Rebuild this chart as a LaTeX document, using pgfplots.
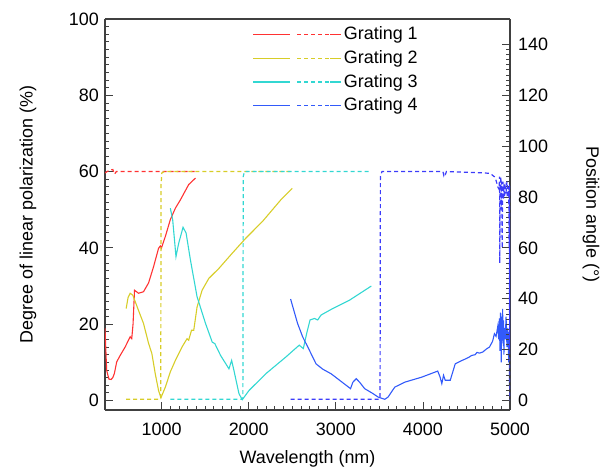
\documentclass[border=0pt]{standalone}
\usepackage{fontspec}
\setmainfont{Liberation Sans}
\usepackage{pgfplots}
\pgfplotsset{compat=1.18}
\definecolor{cR}{RGB}{255,50,50}
\definecolor{cY}{RGB}{215,205,40}
\definecolor{cC}{RGB}{50,215,210}
\definecolor{cB}{RGB}{50,90,250}
\definecolor{cBd}{RGB}{60,60,250}
\pgfplotsset{
  twoleg/.style={legend image code/.code={
    \draw[solid, line width=1.3bp, color=#1] (0bp,0bp)--(37bp,0bp);
    \draw[line width=1.3bp, color=#1, dash pattern=on 4bp off 3bp] (44bp,0bp)--(77bp,0bp);
    \path (77bp,0bp)--(88bp,0bp);}},
  common/.style={
    scale only axis, width=405bp, height=391bp,
    xmin=350, xmax=5000,
    tick align=inside,
    major tick length=8bp, minor tick length=4.5bp,
    axis line style={black!75, line width=1.1bp},
    every tick/.style={black!75, line width=0.8bp},
    ticklabel style={font=\fontsize{18}{21}\selectfont},
    label style={font=\fontsize{18}{21}\selectfont},
    /pgf/number format/assume math mode=true,
    /pgf/number format/set thousands separator={},
    scaled ticks=false,
  },
  sol/.style={line width=1.1bp, solid},
  dsh/.style={line width=1.2bp, dash pattern=on 4bp off 3bp},
}
\begin{document}
\fontsize{18}{21}\selectfont
\begin{tikzpicture}
\begin{axis}[common,
  ymin=-2.5, ymax=100,
  axis y line*=left,
  xtick={1000,2000,3000,4000,5000}, minor x tick num=9,
  ytick={0,20,40,60,80,100}, minor y tick num=9,
  xtick pos=left,
  xticklabel style={yshift=-7bp},
  xlabel={Wavelength (nm)},
  ylabel={Degree of linear polarization (\%)},
  xlabel style={at={(axis description cs:0.5,-0.125)},anchor=center},
  ylabel style={at={(axis description cs:-0.19,0.5)},anchor=center},
  legend style={draw=none, fill=none, at={(rel axis cs:0.357,0.992)}, anchor=north west,
    yshift=-0.5bp, row sep=4bp, font=\fontsize{18}{21}\selectfont},
  legend cell align=left,
]
\coordinate (O) at (rel axis cs:0,0);
\addplot[sol, cR, twoleg=cR] coordinates {
(350,18.9)(369,7.9)(395,5.6)(420,5.5)(440,6.0)(458,7.1)(484,10.1)(524,11.8)(581,14.0)(639,16.7)(657,16.2)
(672,20)(689,28.9)(735,28.1)(792,28.5)(850,30.8)(908,35.1)(965,39.9)(985,40.5)(997,39.9)
(1043,43.0)(1100,47.4)(1158,50.4)(1216,52.6)(1311,56.6)(1389,58.3)};
\addlegendentry{Grating 1}
\addplot[sol, cY, twoleg=cY] coordinates {
(593,24.1)(615,27)(639,28.1)(669,27.6)(735,23.6)(792,20.2)(850,15.0)(888,12.3)(927,7.0)(965,2.6)(992,0.7)
(1043,3.5)(1100,7.5)(1158,10.5)(1234,14.0)(1292,16.2)(1311,15.8)(1343,18.4)(1369,18.4)(1407,24.5)
(1465,28.9)(1542,32.0)(1657,34.6)(1811,38.6)(1965,42.5)(2157,46.9)(2369,52.6)(2500,55.6)};
\addlegendentry{Grating 2}
\addplot[sol, cC, twoleg=cC] coordinates {
(1100,50.4)(1127,47.4)(1165,37.7)(1196,41.2)(1246,45.4)(1281,43.9)(1331,36.8)(1407,27.2)(1504,20.2)
(1581,15.3)(1611,14.9)(1677,11.8)(1773,8.3)(1804,10.5)(1830,7.9)(1888,1.8)(1926,0.2)(2003,2.6)
(2196,7.0)(2427,11.4)(2580,14.5)(2627,13.6)(2665,17.5)(2704,21.1)(2754,21.5)(2792,21.1)(2831,22.4)
(2965,24.1)(3158,26.3)(3408,30.0)};
\addlegendentry{Grating 3}
\addplot[sol, cB, twoleg=cB] coordinates {
(2481,26.6)(2561,20.2)(2619,16.7)(2696,13.2)(2773,9.6)(2850,8.2)(2946,7.0)(3169,3.1)(3196,4.8)(3235,5.7)
(3273,4.8)(3331,3.1)(3427,1.8)(3485,0.9)(3562,0.3)(3600,0.9)(3677,3.5)(3792,4.8)(3985,6.1)(4170,7.7)
(4198,6.1)(4217,4.4)(4237,6.6)(4256,5.3)(4314,5.3)(4371,9.6)(4450,10.5)(4500,11)(4533,11.4)(4560,11.8)
(4600,12.0)(4620,12.6)(4650,12.4)(4687,12.7)(4730,13.5)(4764,14.0)(4800,15.5)(4821,17.5)(4840,16.8)
(4860,19.5)(4870,16)(4878,21.5)(4885,13)(4890,23)(4895,19)(4900,10)(4905,22)(4910,15)(4915,24)
(4920,17)(4925,21)(4930,12)(4935,19)(4945,16)(4955,22)(4965,14)(4975,19)(4985,10)(4990,18)(4995,3)(5000,15)};
\addlegendentry{Grating 4}
\end{axis}
\begin{axis}[common,
  ymin=-3.75, ymax=150,
  axis y line*=right, axis x line=none,
  ytick={0,20,40,60,80,100,120,140}, minor y tick num=9,
  yticklabel style={xshift=2bp},
  ylabel={Position angle (°)},
  ylabel style={at={(axis description cs:1.2,0.5)},anchor=center,rotate=180},
]
\addplot[dsh, cR] coordinates {(350,89.5)(400,90.5)(440,90.8)(460,89)(480,90)(1390,90)};
\addplot[dsh, cY] coordinates {(593,0.5)(975,0.5)(990,1)(994,85)(1003,89.5)(1030,90)(2500,90)};
\addplot[dsh, cC] coordinates {(1100,0.5)(1925,0.5)(1933,1)(1937,88)(1950,90)(3400,90)};
\addplot[dsh, cBd] coordinates {(2481,0.5)(3500,0.5)(3508,1)(3512,88)(3530,90)(4230,90)(4240,88.5)(4250,89.5)
(4260,89)(4270,90)(4700,89.5)(4760,89.3)(4790,88.8)(4820,88)(4840,86.5)(4860,84)(4875,83)(4880,88)
(4883,54)(4886,85)(4890,84)(4895,88)(4900,75)(4905,86)(4910,60)(4915,83)(4920,86)(4925,79)(4930,85)
(4935,80)(4945,84)(4955,82)(4965,86)(4975,80)(4985,84)(4990,60)(4993,85)(4996,20)(4998,70)(5000,0)};
\end{axis}
\pgfresetboundingbox
\path[use as bounding box] (O) ++(-105bp,-60bp) rectangle ++(609bp,470bp);
\end{tikzpicture}
\end{document}
